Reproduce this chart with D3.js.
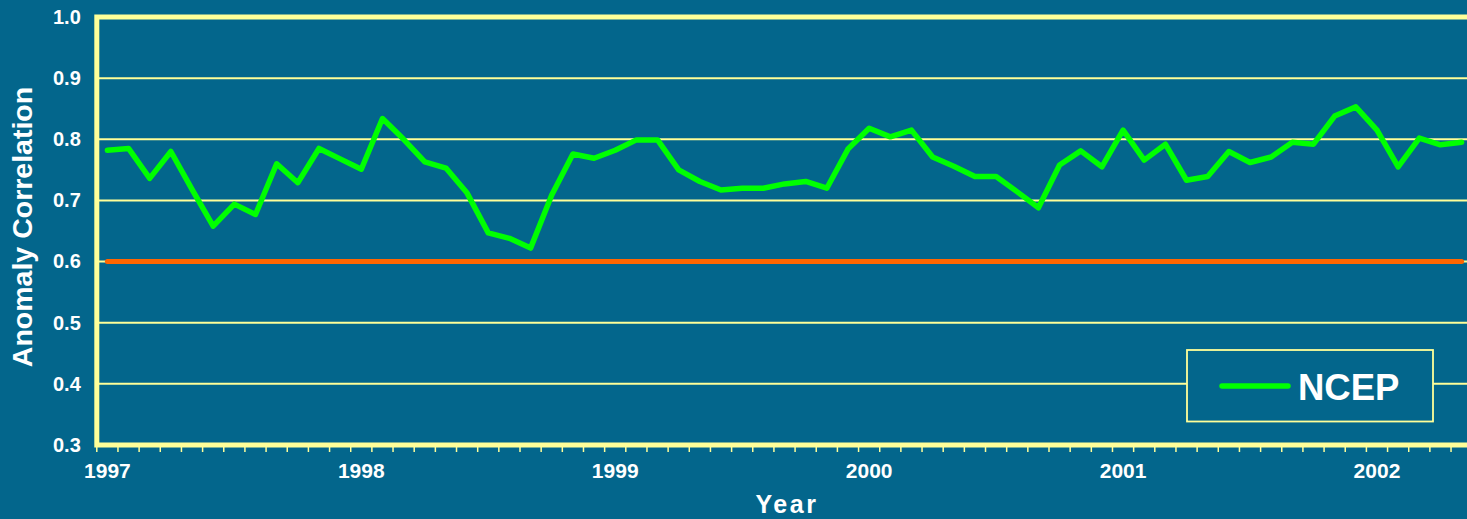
<!DOCTYPE html>
<html>
<head>
<meta charset="utf-8">
<script src="https://cdn.jsdelivr.net/npm/d3@7"></script>
<style>
  html, body { margin: 0; padding: 0; overflow: hidden; background: #03668c; }
  svg { display: block; }
  text { font-family: "Liberation Sans", Arial, sans-serif; font-weight: bold; }
</style>
</head>
<body>
<svg id="chart" width="1467" height="519"></svg>
<script>
// ---- data ----
const startMonth = new Date(1997, 0, 1);
const nMonths = 65;
const categories = d3.timeMonths(startMonth, d3.timeMonth.offset(startMonth, nMonths))
  .map(d3.timeFormat("%Y-%m"));
const yearLabels = ["1997", "1998", "1999", "2000", "2001", "2002"];
const yTicks = [0.3, 0.4, 0.5, 0.6, 0.7, 0.8, 0.9, 1.0];
const seriesName = "NCEP";
const ncep = [
  0.782, 0.785, 0.736, 0.780, 0.718, 0.658, 0.694, 0.677, 0.760, 0.729, 0.785, 0.768,
  0.751, 0.834, 0.800, 0.763, 0.753, 0.712, 0.647, 0.638, 0.622, 0.709, 0.776, 0.769,
  0.782, 0.799, 0.799, 0.750, 0.731, 0.717, 0.720, 0.720, 0.727, 0.731, 0.720, 0.784,
  0.818, 0.804, 0.815, 0.771, 0.756, 0.739, 0.739, 0.714, 0.688, 0.758, 0.781, 0.755,
  0.815, 0.766, 0.792, 0.733, 0.739, 0.780, 0.762, 0.771, 0.795, 0.792, 0.838, 0.853,
  0.815, 0.755, 0.802, 0.791, 0.795
];
const threshold = categories.map(() => 0.6);

// ---- layout ----
const svg = d3.select("#chart");
const plotLeft = 96.8, plotTop = 17, plotBottom = 445, band = 21.16;
const x = d3.scaleBand().domain(categories).range([plotLeft, plotLeft + categories.length * band]).padding(0);
const y = d3.scaleLinear().domain([0.3, 1.0]).range([plotBottom, plotTop]);
const plotRight = x.range()[1];
const cx = d => x(d) + x.bandwidth() / 2;

const frameCol = "#ffff99";
const bgCol = "#03668c";

// gridlines
svg.append("g").selectAll("line")
  .data(yTicks.filter(v => v > 0.3 && v < 1.0))
  .join("line")
  .attr("x1", plotLeft).attr("x2", plotRight)
  .attr("y1", d => y(d)).attr("y2", d => y(d))
  .attr("stroke", frameCol).attr("stroke-width", 2);

// legend box
const lg = svg.append("g").attr("transform", "translate(1187,350)");
lg.append("rect").attr("x", 0).attr("y", 0).attr("width", 246).attr("height", 71.5)
  .attr("fill", bgCol).attr("stroke", frameCol).attr("stroke-width", 1.8);
lg.append("line").attr("x1", 35).attr("x2", 101).attr("y1", 36).attr("y2", 36)
  .attr("stroke", "#00ff00").attr("stroke-width", 5.5).attr("stroke-linecap", "round");
lg.append("text").attr("x", 111).attr("y", 50).attr("fill", "#ffffff")
  .attr("font-size", 36.5).text(seriesName);

// threshold line
svg.append("path")
  .datum(categories.map((c, i) => [c, threshold[i]]))
  .attr("fill", "none").attr("stroke", "#ff6600").attr("stroke-width", 5)
  .attr("stroke-linecap", "round")
  .attr("d", d3.line().x(d => cx(d[0])).y(d => y(d[1])));

// NCEP line
svg.append("path")
  .datum(categories.map((c, i) => [c, ncep[i]]))
  .attr("fill", "none").attr("stroke", "#00ff00").attr("stroke-width", 5.5)
  .attr("stroke-linejoin", "round").attr("stroke-linecap", "round")
  .attr("d", d3.line().x(d => cx(d[0])).y(d => y(d[1])));

// frame
svg.append("rect").attr("x", plotLeft).attr("y", plotTop)
  .attr("width", plotRight + 20 - plotLeft).attr("height", plotBottom - plotTop)
  .attr("fill", "none").attr("stroke", frameCol).attr("stroke-width", 5);

// x tick marks at month boundaries
svg.append("g").selectAll("line")
  .data(categories)
  .join("line")
  .attr("x1", d => x(d)).attr("x2", d => x(d))
  .attr("y1", plotBottom + 2).attr("y2", plotBottom + 7)
  .attr("stroke", frameCol).attr("stroke-width", 1.5);

// x axis labels
const janCats = yearLabels.map(yr => yr + "-01");
const xAxis = svg.append("g").attr("transform", `translate(0,${plotBottom})`)
  .call(d3.axisBottom(x).tickValues(janCats).tickSize(0).tickPadding(18)
    .tickFormat(d => d.slice(0, 4)));
xAxis.select(".domain").remove();
xAxis.selectAll("text").attr("fill", "#ffffff").attr("font-size", 21)
  .attr("font-family", "Liberation Sans, Arial, sans-serif").attr("font-weight", "bold");

// y axis labels
const yAxis = svg.append("g").attr("transform", `translate(${plotLeft},0)`)
  .call(d3.axisLeft(y).tickValues(yTicks).tickSize(0).tickPadding(16).tickFormat(d3.format(".1f")));
yAxis.select(".domain").remove();
yAxis.selectAll("text").attr("fill", "#ffffff").attr("font-size", 20)
  .attr("font-family", "Liberation Sans, Arial, sans-serif").attr("font-weight", "bold");

// axis titles
svg.append("text").attr("transform", "translate(32,227) rotate(-90)")
  .attr("text-anchor", "middle").attr("fill", "#ffffff").attr("font-size", 28.5)
  .text("Anomaly Correlation");
svg.append("text").attr("x", 787).attr("y", 513).attr("text-anchor", "middle")
  .attr("fill", "#ffffff").attr("font-size", 25).attr("letter-spacing", 2.5)
  .text("Year");
</script>
</body>
</html>
